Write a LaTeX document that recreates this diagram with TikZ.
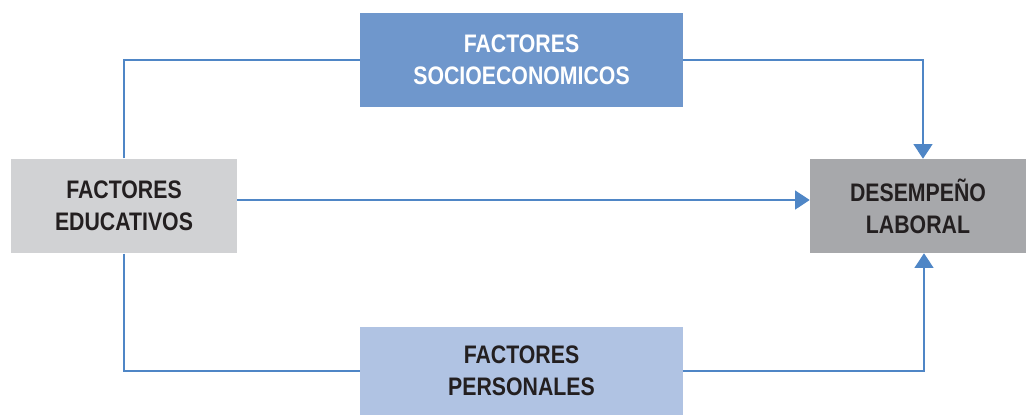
\documentclass[tikz,border=0pt]{standalone}
\usepackage{fontspec}
\newfontfamily\boxfont{Liberation Sans}[FakeStretch=0.84]
\usetikzlibrary{arrows.meta}
\usetikzlibrary{calc}
\definecolor{linkblue}{RGB}{79,134,198}
\definecolor{socioblue}{RGB}{111,151,204}
\definecolor{persoblue}{RGB}{176,195,227}
\definecolor{educgray}{RGB}{209,210,212}
\definecolor{desempgray}{RGB}{167,168,171}
\definecolor{textdark}{RGB}{35,31,32}

\begin{document}
\begin{tikzpicture}[x=0.75pt, y=-0.75pt,
	factor/.style={inner sep=0pt, align=center, text=textdark,
		font=\boxfont\bfseries\fontsize{19}{24}\selectfont},
	link/.style={draw=linkblue, line width=2pt},
	linkarrow/.style={link, -{Triangle[width=14pt, length=11pt]}}
]
\useasboundingbox (0,0) rectangle (1026,415);
\node[factor, fill=socioblue, text=white, minimum width=242pt, minimum height=70.5pt] (socio) at (521.5,60) {FACTORES\\SOCIOECONOMICOS};
\node[factor, fill=educgray, minimum width=169.5pt, minimum height=71pt] (educ) at (124,206) {FACTORES\\EDUCATIVOS};
\node[factor, fill=desempgray, minimum width=162pt, minimum height=70.5pt] (desemp) at (918,206) {DESEMPEÑO\\LABORAL};
\node[factor, fill=persoblue, minimum width=242pt, minimum height=66pt] (perso) at (521.5,371) {FACTORES\\PERSONALES};
\draw[link] (educ.north) |- (socio.west);
\draw[linkarrow] (socio.east) -| ([xshift=3.75pt]desemp.north);
\draw[linkarrow] ([yshift=4.5pt]educ.east) -- ([yshift=4.5pt]desemp.west);
\draw[link] (educ.south) |- (perso.west);
\draw[linkarrow] (perso.east) -| ([xshift=4.5pt]desemp.south);
\end{tikzpicture}
\end{document}
